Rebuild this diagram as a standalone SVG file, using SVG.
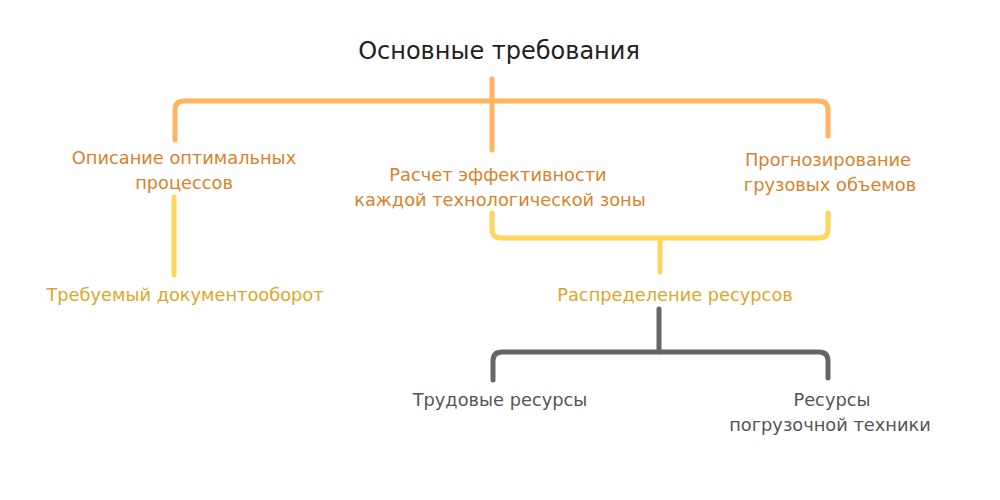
<svg xmlns="http://www.w3.org/2000/svg" width="1000" height="500" viewBox="0 0 1000 500">
<style>
text{font-family:"DejaVu Sans","Noto Sans",sans-serif;text-anchor:middle}
.t{font-size:24px;fill:#222}
.o{font-size:17.8px;fill:#D8822C}
.y{font-size:17.8px;fill:#E0A62A}
.g{font-size:17.8px;fill:#555}
.lo{fill:none;stroke:#FFB55F;stroke-width:5;stroke-linecap:round;stroke-linejoin:round}
.ly{fill:none;stroke:#FFD55C;stroke-width:5;stroke-linecap:round;stroke-linejoin:round}
.lg{fill:none;stroke:#666;stroke-width:5;stroke-linecap:round;stroke-linejoin:round}
</style>
<rect width="1000" height="500" fill="#fff"/>
<g id="connectors">
<path class="lo" d="M175,140 V110 Q175,101 184,101 H819 Q828,101 828,110 V136"/>
<path class="lo" d="M492,79 V150"/>
<path class="ly" d="M174,197 V275"/>
<path class="ly" d="M492,213 V229 Q492,238 501,238 H819 Q828,238 828,229 V213"/>
<path class="ly" d="M660,240 V272"/>
<path class="lg" d="M659,309 V352"/>
<path class="lg" d="M493,380 V361 Q493,352 502,352 H819 Q828,352 828,361 V378"/>
</g>
<g id="title"><text class="t" x="499" y="59">Основные требования</text></g>
<g id="node-opisanie"><text class="o" x="184" y="164">Описание оптимальных</text><text class="o" x="184" y="189">процессов</text></g>
<g id="node-raschet"><text class="o" x="498" y="181">Расчет эффективности</text><text class="o" x="500" y="206">каждой технологической зоны</text></g>
<g id="node-prognoz"><text class="o" x="828" y="166">Прогнозирование</text><text class="o" x="830" y="191">грузовых объемов</text></g>
<g id="node-dokument"><text class="y" x="185" y="301">Требуемый документооборот</text></g>
<g id="node-raspred"><text class="y" x="675" y="301">Распределение ресурсов</text></g>
<g id="node-trud"><text class="g" x="500" y="406">Трудовые ресурсы</text></g>
<g id="node-tehnika"><text class="g" x="832" y="406">Ресурсы</text><text class="g" x="830" y="431">погрузочной техники</text></g>
</svg>
